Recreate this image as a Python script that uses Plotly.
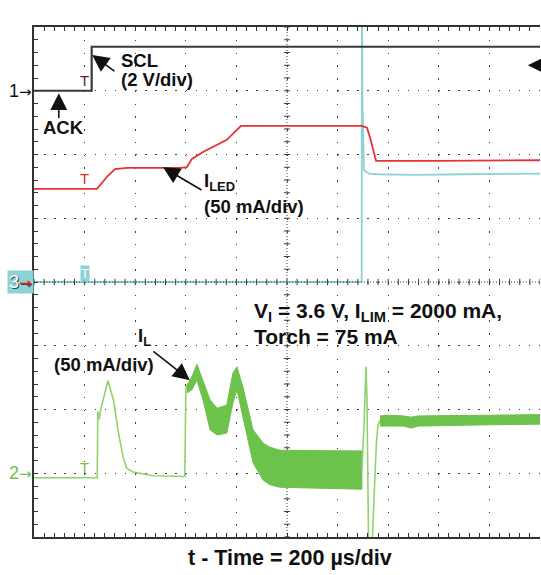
import plotly.graph_objects as go

# scope screen is 10 x 8 divisions; values below are in divisions
FONT = 'Liberation Sans, Arial, sans-serif'
GRID = '#3c3c3c'
C_SCL = '#3a3a3a'
C_RED = '#e63236'
C_CYAN = '#8dd3d3'
C_GREEN = '#6cc24a'
C_GREEN_LT = '#8fd36e'

# channel 1 - SCL (2 V/div)
scl_t = [0, 1.14, 1.14, 10]
scl_v = [7.0, 7.0, 7.69, 7.69]

# channel 3 - cyan
ch3_t = [0, 6.475, 6.48, 6.485, 6.49, 6.50, 6.52, 6.56, 6.62, 6.8, 7.5, 8.5, 9.3, 10]
ch3_v = [4.0, 4.0, 8.0, 8.0, 6.9, 6.2, 5.76, 5.73, 5.70, 5.69, 5.68, 5.69, 5.70, 5.70]

# I_LED (50 mA/div)
led_t = [0, 1.245, 1.34, 1.44, 1.60, 1.84, 2.9, 3.02, 3.12, 3.34, 3.81, 4.09,
         6.48, 6.58, 6.64, 6.70, 6.76, 8.0, 10]
led_v = [5.46, 5.46, 5.55, 5.65, 5.77, 5.79, 5.79, 5.80, 5.93, 6.04, 6.23, 6.45,
         6.45, 6.42, 6.27, 6.07, 5.90, 5.90, 5.91]

# I_L (50 mA/div) - first pulse, thin trace
il_t = [0, 1.25, 1.26, 1.29, 1.31, 1.46, 1.57, 1.67, 1.76, 1.83, 1.96, 2.09,
        2.35, 2.98, 3.0, 3.02]
il_v = [0.93, 0.93, 1.97, 1.85, 1.97, 2.45, 2.15, 1.63, 1.26, 1.08, 1.02, 1.0,
        0.96, 0.95, 2.30, 2.38]

# I_L ripple envelope while ramping
band_t = [3.02, 3.12, 3.22, 3.34, 3.48, 3.62, 3.81, 3.93, 4.01, 4.13, 4.33,
          4.53, 4.66, 4.86, 5.5, 6.0, 6.48]
band_hi = [2.38, 2.51, 2.71, 2.46, 2.15, 2.02, 2.07, 2.57, 2.67, 2.35, 1.68,
           1.47, 1.41, 1.36, 1.36, 1.35, 1.35]
band_lo = [2.26, 2.31, 2.46, 2.15, 1.68, 1.60, 1.63, 2.10, 2.31, 1.88, 1.16,
           0.89, 0.82, 0.78, 0.76, 0.76, 0.75]

# I_L transient at torch step
spike_t = [6.48, 6.50, 6.53, 6.56, 6.58, 6.61, 6.63, 6.66, 6.69, 6.74, 6.77, 6.80, 6.84]
spike_v = [1.05, 1.35, 1.90, 2.67, 2.20, 0.0, -0.4, -0.4, 0.0, 1.0, 1.52, 1.76, 1.83]

# I_L ripple envelope in torch mode
plat_t = [6.84, 7.0, 7.3, 7.45, 7.6, 8.0, 9.0, 10.0]
plat_hi = [1.90, 1.91, 1.90, 1.88, 1.90, 1.90, 1.91, 1.92]
plat_lo = [1.74, 1.74, 1.74, 1.71, 1.74, 1.75, 1.76, 1.77]


fig = go.Figure()

fig.add_trace(go.Scatter(x=ch3_t, y=ch3_v, mode='lines',
                         line=dict(color=C_CYAN, width=1.8)))
fig.add_trace(go.Scatter(x=scl_t, y=scl_v, mode='lines',
                         line=dict(color=C_SCL, width=2.2)))
fig.add_trace(go.Scatter(x=led_t, y=led_v, mode='lines',
                         line=dict(color=C_RED, width=1.8)))
fig.add_trace(go.Scatter(x=il_t, y=il_v, mode='lines',
                         line=dict(color=C_GREEN_LT, width=1.6)))
fig.add_trace(go.Scatter(x=band_t + band_t[::-1], y=band_hi + band_lo[::-1],
                         mode='lines', fill='toself', fillcolor=C_GREEN,
                         line=dict(color=C_GREEN, width=1)))
fig.add_trace(go.Scatter(x=spike_t, y=spike_v, mode='lines',
                         line=dict(color=C_GREEN_LT, width=1.6)))
fig.add_trace(go.Scatter(x=plat_t + plat_t[::-1], y=plat_hi + plat_lo[::-1],
                         mode='lines', fill='toself', fillcolor=C_GREEN,
                         line=dict(color=C_GREEN, width=1)))

# centre cross with fine ticks
shapes = [
    dict(type='line', x0=5, x1=5, y0=0, y1=8, line=dict(color=GRID, width=1, dash='1px,2px'), layer='below'),
    dict(type='line', x0=0, x1=10, y0=4, y1=4, line=dict(color=GRID, width=1, dash='1px,2px'), layer='above'),
]
for i in range(51):
    shapes.append(dict(type='line', x0=i * 0.2, x1=i * 0.2, y0=3.95, y1=4.05,
                       line=dict(color=GRID, width=1), layer='above'))
for j in range(41):
    shapes.append(dict(type='line', x0=4.94, x1=5.06, y0=j * 0.2, y1=j * 0.2,
                       line=dict(color=GRID, width=1), layer='below'))
# cursor bracket line above the screen
shapes.append(dict(type='line', x0=2.55, x1=7.47, y0=8.19, y1=8.19,
                   line=dict(color=C_CYAN, width=1.2, dash='1px,1px')))

B = dict(family=FONT, size=18.5, color='#111', weight='bold')
BIG = dict(family=FONT, size=21, color='#111', weight='bold')
ARR = 'font-family:DejaVu Sans;font-size:15px'


def txt(x, y, s, font=B, xa='left', ya='middle', **kw):
    return dict(x=x, y=y, xref='x', yref='y', text=s, showarrow=False,
                xanchor=xa, yanchor=ya, font=font, **kw)


def arrow(x, y, ax, ay, size=2.1, width=1.6):
    return dict(x=x, y=y, ax=ax, ay=ay, xref='x', yref='y', axref='x', ayref='y',
                text='', showarrow=True, arrowhead=2, arrowsize=size,
                arrowwidth=width, arrowcolor='#111', standoff=0)


ann = [
    txt(1.68, 7.47, 'SCL'),
    txt(1.68, 7.17, '(2 V/div)'),
    txt(0.14, 6.43, 'ACK'),
    txt(3.32, 5.57, 'I<sub>LED</sub>'),
    txt(3.32, 5.18, '(50 mA/div)'),
    txt(2.02, 3.14, 'I<sub>L</sub>'),
    txt(0.36, 2.70, '(50 mA/div)'),
    txt(4.31, 3.53, 'V<sub>I</sub> = 3.6 V, I<sub>LIM</sub> = 2000 mA,', font=BIG),
    txt(4.31, 3.15, 'Torch = 75 mA', font=BIG),
    dict(x=0.506, y=-0.041, xref='paper', yref='paper', showarrow=False,
         text='t - Time = 200 µs/div', xanchor='center', yanchor='middle',
         font=dict(family=FONT, size=21.5, color='#111', weight='bold')),
    arrow(1.15, 7.56, 1.62, 7.29),
    arrow(0.49, 6.96, 0.49, 6.55),
    arrow(2.55, 5.80, 3.34, 5.43),
    arrow(3.08, 2.46, 2.33, 2.93),
    # off-screen trace indicator on the right edge
    arrow(9.76, 7.40, 10.0, 7.40, size=1.6, width=2.4),
    # channel markers
    txt(0, 7.0, f'1<span style="{ARR}">→</span>', xa='right',
        font=dict(family=FONT, size=18, color='#111')),
    txt(0, 1.0, f'2<span style="{ARR}">→</span>', xa='right',
        font=dict(family=FONT, size=18, color=C_GREEN)),
    txt(0, 4.0, f'3<span style="{ARR};color:#e02020">→</span>', xa='right',
        bgcolor=C_CYAN, borderpad=1,
        font=dict(family=FONT, size=18, color='#ffffff', shadow='1px 1px 0px #444')),
    # trigger markers
    txt(1.0, 7.0, 'T', xa='center', ya='bottom', font=dict(family=FONT, size=15, color='#5a2a2a')),
    txt(1.0, 5.46, 'T', xa='center', ya='bottom', font=dict(family=FONT, size=15, color=C_RED)),
    txt(1.0, 0.93, 'T', xa='center', ya='bottom', font=dict(family=FONT, size=15, color=C_GREEN)),
    txt(1.0, 4.0, 'T', xa='center', ya='bottom', bgcolor=C_CYAN, borderpad=0,
        font=dict(family=FONT, size=13, color='#ffffff')),
    # cursor bracket
    txt(2.50, 8.19, '[', xa='right', font=dict(family=FONT, size=17, color='#222', weight='bold')),
    txt(7.49, 8.19, ']', font=dict(family=FONT, size=17, color='#222', weight='bold')),
    txt(3.02, 8.20, 'T', xa='center', font=dict(family=FONT, size=14, color=C_CYAN)),
]

axis = dict(showticklabels=False, showgrid=True, gridcolor=GRID, gridwidth=1.4,
            zeroline=False, showline=True, linecolor='#333', linewidth=2,
            ticks='inside', ticklen=4, tickcolor='#333', dtick=1, tick0=0)

fig.update_layout(
    width=541, height=575,
    margin=dict(l=34, r=1, t=27, b=38),
    paper_bgcolor='white', plot_bgcolor='white',
    showlegend=False,
    shapes=shapes,
    annotations=ann,
    xaxis=dict(axis, range=[0, 10], griddash='1.5px,11.25px', mirror='ticks',
               minor=dict(dtick=0.2, ticks='inside', ticklen=4, tickcolor='#333', showgrid=False)),
    yaxis=dict(axis, range=[0, 8], griddash='1.5px,8.6px', mirror=False,
               minor=dict(dtick=0.2, ticks='inside', ticklen=4, tickcolor='#333', showgrid=False)),
)

# page body has a default 8px margin; drop it so the figure fills the window
fig.write_html('out.html', config={'displayModeBar': False},
               post_script="document.body.style.margin='0px';")
